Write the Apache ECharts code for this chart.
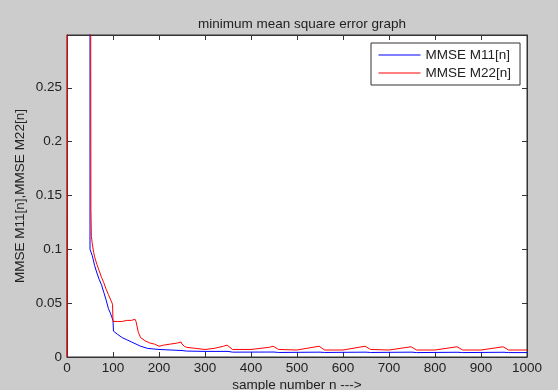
<!DOCTYPE html>
<html>
<head>
<meta charset="utf-8">
<script src="https://cdn.jsdelivr.net/npm/echarts@6/dist/echarts.min.js"></script>
<style>
  html, body { margin: 0; padding: 0; background: #cccccc; }
  #chart { width: 558px; height: 390px; }
</style>
</head>
<body>
<div id="chart"></div>
<script>
// sample index n and MMSE values
var m11N = [1, 50, 50, 55, 60, 65, 70, 75, 80, 85, 90, 95, 100, 101, 110, 120, 130, 140, 150, 160, 175, 200, 250, 260, 300, 350, 360, 450, 460, 550, 560, 650, 660, 750, 760, 850, 860, 950, 960, 1000];
var m11 = [0.5, 0.5, 0.1, 0.094, 0.085, 0.078, 0.072, 0.067, 0.06, 0.053, 0.045, 0.04, 0.034, 0.024, 0.021, 0.018, 0.016, 0.014, 0.012, 0.010, 0.008, 0.007, 0.006, 0.0055, 0.0052, 0.0052, 0.0045, 0.0046, 0.0042, 0.0045, 0.0042, 0.0045, 0.0042, 0.0045, 0.0041, 0.0044, 0.0041, 0.0044, 0.0041, 0.0041];

var m22N = [0, 1, 51, 52, 53, 55, 58, 60, 65, 70, 75, 80, 85, 90, 95, 99, 100, 110, 120, 130, 140, 148, 150, 155, 160, 170, 180, 190, 200, 210, 225, 240, 248, 250, 255, 260, 280, 300, 320, 340, 348, 350, 360, 400, 420, 440, 448, 450, 460, 500, 548, 560, 600, 648, 660, 700, 748, 760, 800, 848, 860, 900, 948, 960, 1000];
var m22 = [0, 0.5, 0.5, 0.137, 0.112, 0.105, 0.097, 0.093, 0.086, 0.08, 0.074, 0.069, 0.063, 0.058, 0.053, 0.049, 0.033, 0.033, 0.033, 0.034, 0.034, 0.035, 0.033, 0.023, 0.018, 0.015, 0.013, 0.012, 0.010, 0.011, 0.012, 0.013, 0.014, 0.012, 0.010, 0.009, 0.008, 0.007, 0.008, 0.010, 0.011, 0.010, 0.007, 0.007, 0.008, 0.009, 0.010, 0.009, 0.007, 0.0065, 0.010, 0.0065, 0.0065, 0.010, 0.007, 0.0065, 0.0095, 0.0065, 0.0065, 0.0095, 0.0065, 0.0065, 0.0095, 0.0065, 0.0065];

var xTicks = [0, 100, 200, 300, 400, 500, 600, 700, 800, 900, 1000];
var yTicks = [0, 0.05, 0.1, 0.15, 0.2, 0.25];

function pairs(xs, ys) {
  var res = [];
  for (var i = 0; i < xs.length; i++) res.push([xs[i], ys[i]]);
  return res;
}

var font = 'Liberation Sans, Arial, sans-serif';
var txt = { fontFamily: font, fontSize: 13.5, color: '#222' };

var chart = echarts.init(document.getElementById('chart'));
var xBase = {
  type: 'value', min: 0, max: 1000, interval: 100,
  axisLine: { show: true, onZero: false, lineStyle: { color: '#333' } },
  axisTick: { show: true, inside: true, length: 5, lineStyle: { color: '#333' } },
  splitLine: { show: false }
};
var yBase = {
  type: 'value', min: 0, max: 0.299, interval: 0.05,
  axisLine: { show: true, onZero: false, lineStyle: { color: '#333' } },
  axisTick: { show: true, inside: true, length: 5, lineStyle: { color: '#333' } },
  splitLine: { show: false }
};

var option = {
  backgroundColor: '#cccccc',
  animation: false,
  title: {
    text: 'minimum mean square error graph',
    left: 297, top: 12, textAlign: 'center',
    textStyle: { fontFamily: font, fontSize: 13.5, fontWeight: 'normal', color: '#222' }
  },
  grid: {
    left: 67, right: 31, top: 35, bottom: 33,
    outerBoundsMode: 'none', containLabel: false,
    show: true, backgroundColor: '#fff', borderColor: '#333', borderWidth: 1
  },
  legend: {
    orient: 'vertical', left: 371, top: 43,
    backgroundColor: '#fff', borderColor: '#333', borderWidth: 1,
    padding: [5, 9, 5, 7], itemGap: 4,
    itemWidth: 42, itemHeight: 14,
    itemStyle: { opacity: 0 },
    lineStyle: { width: 1 },
    textStyle: txt,
    data: ['MMSE M11[n]', 'MMSE M22[n]']
  },
  xAxis: [
    Object.assign({}, xBase, {
      position: 'bottom',
      name: 'sample number n --->', nameLocation: 'middle', nameGap: 21,
      nameMoveOverlap: false,
      nameTextStyle: txt,
      axisLabel: Object.assign({ margin: 4, showMaxLabel: true,
        formatter: function (v) { return xTicks.indexOf(v) >= 0 ? String(v) : ''; } }, txt)
    }),
    Object.assign({}, xBase, { position: 'top', axisLabel: { show: false } })
  ],
  yAxis: [
    Object.assign({}, yBase, {
      position: 'left',
      name: 'MMSE M11[n],MMSE M22[n]', nameLocation: 'middle', nameGap: 40,
      nameMoveOverlap: false,
      nameTextStyle: txt,
      axisLabel: Object.assign({ margin: 5, showMaxLabel: false,
        formatter: function (v) {
          for (var i = 0; i < yTicks.length; i++) if (Math.abs(yTicks[i] - v) < 1e-9) return String(yTicks[i]);
          return '';
        } }, txt)
    }),
    Object.assign({}, yBase, { position: 'right', axisLabel: { show: false } })
  ],
  series: [
    {
      name: 'MMSE M11[n]', type: 'line', symbol: 'none', clip: true,
      lineStyle: { color: '#0000ff', width: 1 }, itemStyle: { color: '#0000ff' },
      data: pairs(m11N, m11)
    },
    {
      name: 'MMSE M22[n]', type: 'line', symbol: 'none', clip: true,
      lineStyle: { color: '#ff0000', width: 1 }, itemStyle: { color: '#ff0000' },
      data: pairs(m22N, m22)
    }
  ]
};
chart.setOption(option);
</script>
</body>
</html>
